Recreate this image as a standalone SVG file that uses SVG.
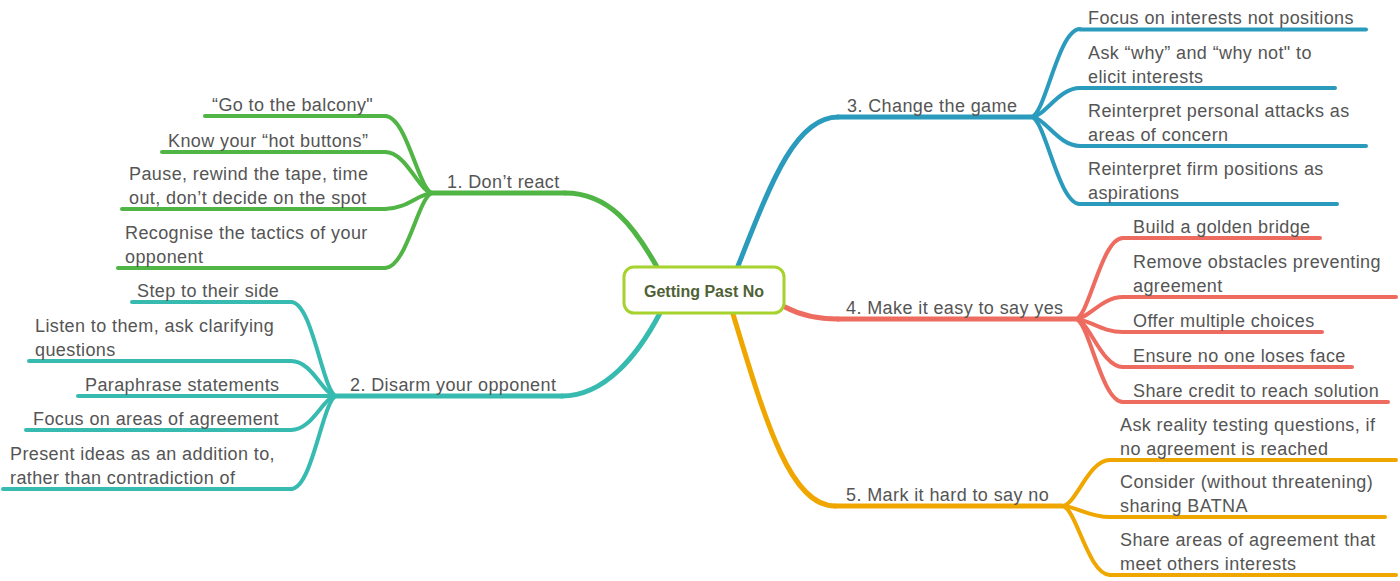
<svg xmlns="http://www.w3.org/2000/svg" width="1400" height="581" viewBox="0 0 1400 581">
<style>
text{font-family:"Liberation Sans",Arial,sans-serif;font-size:18px;letter-spacing:0.4px;fill:#555555}
.c{fill:none;stroke-linecap:round;stroke-linejoin:round}
.m{stroke-width:5}
.s{stroke-width:4}
.g{stroke:#50b545}.t{stroke:#37bbb0}.b{stroke:#2b9bbd}.r{stroke:#ee6b60}.o{stroke:#efa700}
.center{font-size:16px;font-weight:bold;letter-spacing:0;fill:#4f6136}
</style>
<rect width="1400" height="581" fill="#ffffff"/>
<g id="connectors">
<path class="c m g" d="M657,267 C635,228 610,193 565,193"/>
<path class="c m t" d="M660,313 C638,355 605,396 562,396"/>
<path class="c m b" d="M738,266 C770,185 795,117 838,117"/>
<path class="c m r" d="M785,307 C800,315 815,319 838,319"/>
<path class="c m o" d="M733,314 C765,420 790,506 835,506"/>
<path class="c s g" d="M433,193 C419,193 407,116 385,116"/>
<path class="c s g" d="M433,193 C419,193 407,152 385,152"/>
<path class="c s g" d="M433,193 C419,193 407,209 385,209"/>
<path class="c s g" d="M433,193 C419,193 407,268 385,268"/>
<path class="c s t" d="M337,396 C323,396 313,302 291,302"/>
<path class="c s t" d="M337,396 C323,396 313,361 291,361"/>
<path class="c s t" d="M337,396 C323,396 313,396 291,396"/>
<path class="c s t" d="M337,396 C323,396 313,430 291,430"/>
<path class="c s t" d="M337,396 C323,396 313,489 291,489"/>
<path class="c s b" d="M1031,117 C1045,117 1058,29 1080,29"/>
<path class="c s b" d="M1031,117 C1045,117 1058,88 1080,88"/>
<path class="c s b" d="M1031,117 C1045,117 1058,146 1080,146"/>
<path class="c s b" d="M1031,117 C1045,117 1058,204 1080,204"/>
<path class="c s r" d="M1075,319 C1089,319 1101,238 1123,238"/>
<path class="c s r" d="M1075,319 C1089,319 1101,297 1123,297"/>
<path class="c s r" d="M1075,319 C1089,319 1101,332 1123,332"/>
<path class="c s r" d="M1075,319 C1089,319 1101,367 1123,367"/>
<path class="c s r" d="M1075,319 C1089,319 1101,402 1123,402"/>
<path class="c s o" d="M1062,506 C1076,506 1088,460 1110,460"/>
<path class="c s o" d="M1062,506 C1076,506 1088,517 1110,517"/>
<path class="c s o" d="M1062,506 C1076,506 1088,575 1110,575"/>
</g>
<g id="center">
<rect x="624" y="267" width="160" height="46" rx="10" fill="#ffffff" stroke="#a6d22e" stroke-width="3"/>
<text class="center" x="704" y="297" text-anchor="middle">Getting Past No</text>
</g>
<g id="b1">
<path class="c m g" d="M433,193 H565"/>
<text x="447" y="187.5">1. Don’t react</text>
</g>
<g id="b1-1"><path class="c s g" d="M205,116 H385"/><text x="212" y="110.5">“Go to the balcony"</text></g>
<g id="b1-2"><path class="c s g" d="M162,152 H385"/><text x="168" y="146.5">Know your “hot buttons”</text></g>
<g id="b1-3"><path class="c s g" d="M122,209 H385"/><text x="129" y="180">Pause, rewind the tape, time</text><text x="129" y="203.5">out, don’t decide on the spot</text></g>
<g id="b1-4"><path class="c s g" d="M118,268 H385"/><text x="125" y="239">Recognise the tactics of your</text><text x="125" y="262.5">opponent</text></g>
<g id="b2">
<path class="c m t" d="M337,396 H562"/>
<text x="350" y="390.5">2. Disarm your opponent</text>
</g>
<g id="b2-1"><path class="c s t" d="M132,302 H291"/><text x="137" y="296.5">Step to their side</text></g>
<g id="b2-2"><path class="c s t" d="M29,361 H291"/><text x="35" y="332">Listen to them, ask clarifying</text><text x="35" y="355.5">questions</text></g>
<g id="b2-3"><path class="c s t" d="M78,396 H291"/><text x="85" y="390.5">Paraphrase statements</text></g>
<g id="b2-4"><path class="c s t" d="M26,430 H291"/><text x="33" y="424.5">Focus on areas of agreement</text></g>
<g id="b2-5"><path class="c s t" d="M3,489 H291"/><text x="10" y="460">Present ideas as an addition to,</text><text x="10" y="483.5">rather than contradiction of</text></g>
<g id="b3">
<path class="c m b" d="M838,117 H1031"/>
<text x="847" y="111.5">3. Change the game</text>
</g>
<g id="b3-1"><path class="c s b" d="M1080,29.5 H1366"/><text x="1088" y="23.5">Focus on interests not positions</text></g>
<g id="b3-2"><path class="c s b" d="M1080,88 H1335"/><text x="1088" y="59">Ask “why” and “why not" to</text><text x="1088" y="82.5">elicit interests</text></g>
<g id="b3-3"><path class="c s b" d="M1080,146 H1366"/><text x="1088" y="117">Reinterpret personal attacks as</text><text x="1088" y="140.5">areas of concern</text></g>
<g id="b3-4"><path class="c s b" d="M1080,204 H1337"/><text x="1088" y="175">Reinterpret firm positions as</text><text x="1088" y="198.5">aspirations</text></g>
<g id="b4">
<path class="c m r" d="M838,319 H1075"/>
<text x="846" y="313.5">4. Make it easy to say yes</text>
</g>
<g id="b4-1"><path class="c s r" d="M1123,238 H1320"/><text x="1133" y="232.5">Build a golden bridge</text></g>
<g id="b4-2"><path class="c s r" d="M1123,297 H1396"/><text x="1133" y="268">Remove obstacles preventing</text><text x="1133" y="291.5">agreement</text></g>
<g id="b4-3"><path class="c s r" d="M1123,332 H1322"/><text x="1133" y="326.5">Offer multiple choices</text></g>
<g id="b4-4"><path class="c s r" d="M1123,367 H1352"/><text x="1133" y="361.5">Ensure no one loses face</text></g>
<g id="b4-5"><path class="c s r" d="M1123,402 H1388"/><text x="1133" y="396.5">Share credit to reach solution</text></g>
<g id="b5">
<path class="c m o" d="M835,506 H1062"/>
<text x="846" y="500.5">5. Mark it hard to say no</text>
</g>
<g id="b5-1"><path class="c s o" d="M1110,460 H1396"/><text x="1120" y="431">Ask reality testing questions, if</text><text x="1120" y="454.5">no agreement is reached</text></g>
<g id="b5-2"><path class="c s o" d="M1110,517 H1385"/><text x="1120" y="488">Consider (without threatening)</text><text x="1120" y="511.5">sharing BATNA</text></g>
<g id="b5-3"><path class="c s o" d="M1110,575 H1396"/><text x="1120" y="546">Share areas of agreement that</text><text x="1120" y="569.5">meet others interests</text></g>
</svg>
